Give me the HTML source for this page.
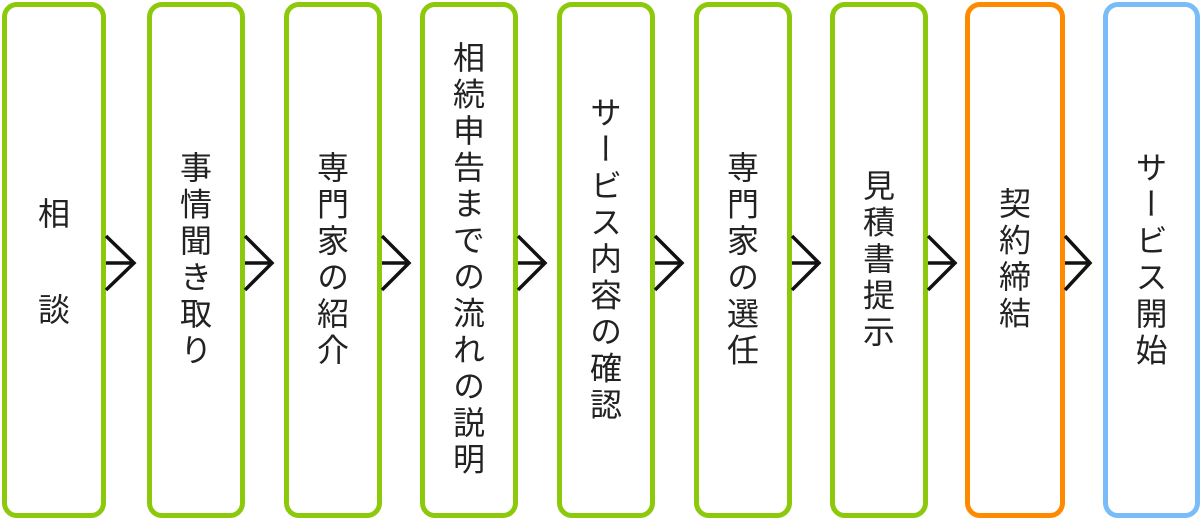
<!DOCTYPE html>
<html><head><meta charset="utf-8"><style>
html,body{margin:0;padding:0;background:#fff;}
body{width:1200px;height:522px;position:relative;overflow:hidden;font-family:"Liberation Sans","Noto Sans CJK JP",sans-serif;}
.b{position:absolute;top:2px;width:88px;height:506px;border:5px solid #8cc90a;border-radius:15px;display:flex;flex-direction:column;align-items:center;justify-content:center;}
.t{writing-mode:vertical-rl;font-size:32px;letter-spacing:4.5px;color:#222;line-height:1;font-family:"Noto Sans CJK JP",sans-serif;}
.h{font-size:32px;color:#222;line-height:1;font-family:"Noto Sans CJK JP",sans-serif;}
.o{border-color:#ff8a00}
.u{border-color:#7abcf8}
svg{position:absolute;left:0;top:0}
</style></head><body>
<div class="b" style="left:2px;width:94px"><div class="h" style="margin-bottom:64px">相</div><div class="h">談</div></div>
<div class="b" style="left:147px"><div class="t">事情聞き取り</div></div>
<div class="b" style="left:284px"><div class="t">専門家の紹介</div></div>
<div class="b" style="left:420px"><div class="t">相続申告までの流れの説明</div></div>
<div class="b" style="left:557px"><div class="t">サービス内容の確認</div></div>
<div class="b" style="left:694px"><div class="t">専門家の選任</div></div>
<div class="b" style="left:830px"><div class="t">見積書提示</div></div>
<div class="b o" style="left:965px;width:90px"><div class="t">契約締結</div></div>
<div class="b u" style="left:1103px;width:87px"><div class="t">サービス開始</div></div>
<svg width="1200" height="522">
<g fill="none" stroke="#111" stroke-width="3.5" stroke-linecap="butt">
<path d="M106 236 L134 263 L106 290 M106 263 H134"/>
<path d="M245 236 L272 263 L245 290 M245 263 H272"/>
<path d="M382 236 L409 263 L382 290 M382 263 H409"/>
<path d="M518 236 L545 263 L518 290 M518 263 H545"/>
<path d="M655 236 L682 263 L655 290 M655 263 H682"/>
<path d="M792 236 L819 263 L792 290 M792 263 H819"/>
<path d="M928 236 L955 263 L928 290 M928 263 H955"/>
<path d="M1065 236 L1090 263 L1065 290 M1065 263 H1090"/>
</g></svg>
</body></html>
